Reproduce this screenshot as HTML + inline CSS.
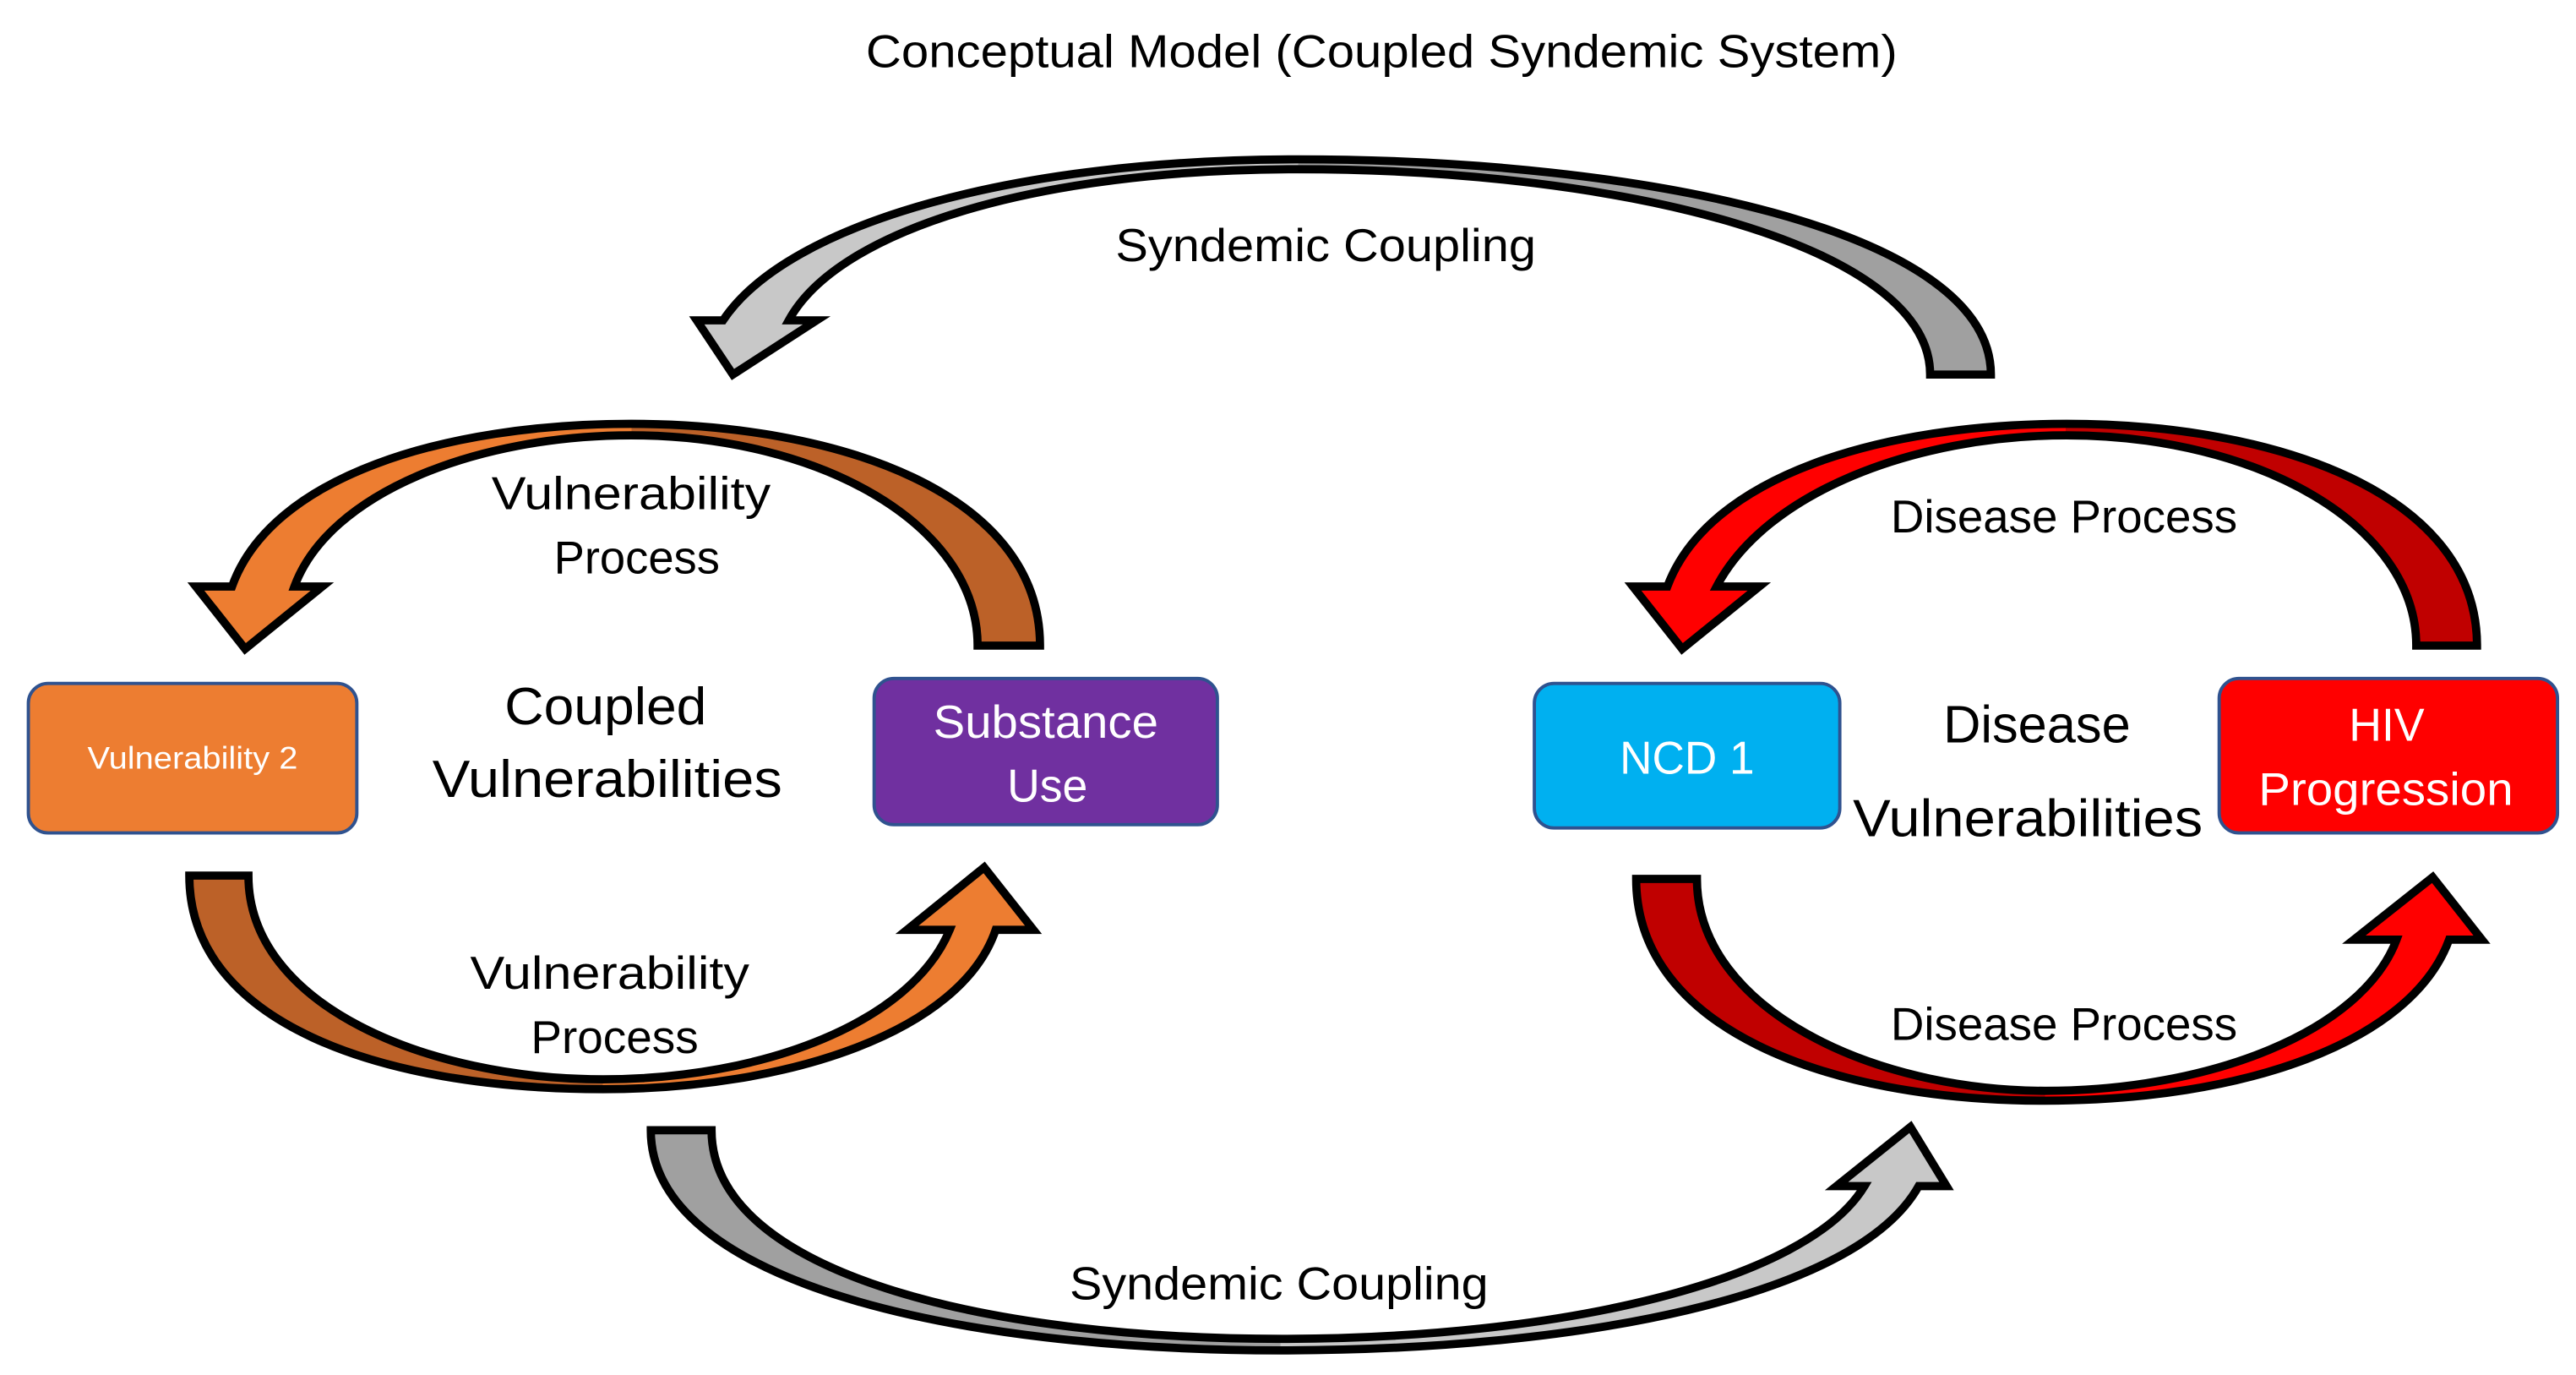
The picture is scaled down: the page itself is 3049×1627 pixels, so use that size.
<!DOCTYPE html>
<html><head><meta charset="utf-8"><style>
html,body{margin:0;padding:0;background:#fff;}
svg{display:block;}
text{font-family:"Liberation Sans Narrow","Liberation Sans",sans-serif;}
</style></head><body>
<svg width="3049" height="1627" viewBox="0 0 1568 837" xmlns="http://www.w3.org/2000/svg">
<defs>
<linearGradient id="gTL" gradientUnits="userSpaceOnUse" x1="0" y1="0" x2="1568" y2="0">
<stop offset="0.245" stop-color="#ED7D31"/><stop offset="0.245" stop-color="#BC6128"/></linearGradient>
<linearGradient id="gBL" gradientUnits="userSpaceOnUse" x1="0" y1="0" x2="1568" y2="0">
<stop offset="0.234" stop-color="#BC6128"/><stop offset="0.234" stop-color="#ED7D31"/></linearGradient>
<linearGradient id="gTR" gradientUnits="userSpaceOnUse" x1="0" y1="0" x2="1568" y2="0">
<stop offset="0.802" stop-color="#FF0000"/><stop offset="0.802" stop-color="#C00000"/></linearGradient>
<linearGradient id="gBR" gradientUnits="userSpaceOnUse" x1="0" y1="0" x2="1568" y2="0">
<stop offset="0.794" stop-color="#C00000"/><stop offset="0.794" stop-color="#FF0000"/></linearGradient>
<linearGradient id="gTG" gradientUnits="userSpaceOnUse" x1="0" y1="0" x2="1568" y2="0">
<stop offset="0.504" stop-color="#C8C8C8"/><stop offset="0.504" stop-color="#A0A0A0"/></linearGradient>
<linearGradient id="gBG" gradientUnits="userSpaceOnUse" x1="0" y1="0" x2="1568" y2="0">
<stop offset="0.497" stop-color="#A0A0A0"/><stop offset="0.497" stop-color="#C8C8C8"/></linearGradient>
</defs>
<g stroke="#000" stroke-width="5" stroke-linejoin="miter">
<!-- top-left orange -->
<path fill="url(#gTL)" d="M141 357 C165 290 270 258 384 258 C510 258 633 300 633 393 L595 393 C595 320 500 265 384 265 C290 265 200 300 179 357 L196 357 L149 395 L119 357 Z"/>
<!-- bottom-left orange -->
<path fill="url(#gBL)" d="M115 533 L151 533 C151 612 260 657 367 657 C465 657 555 622 578 566 L552 566 L599 528 L629 566 L606 566 C585 628 480 663 367 663 C230 663 115 622 115 533 Z"/>
<!-- top-right red -->
<path fill="url(#gTR)" d="M1015 357 C1040 290 1145 258 1258 258 C1385 258 1508 300 1508 393 L1471 393 C1471 320 1375 265 1258 265 C1165 265 1075 300 1045 357 L1071 357 L1024 395 L994 357 Z"/>
<!-- bottom-right red -->
<path fill="url(#gBR)" d="M996 535 L1033 535 C1033 614 1140 664 1245 664 C1345 664 1438 628 1459 572 L1433 572 L1481 534 L1511 572 L1491 572 C1468 635 1365 670 1245 670 C1110 670 996 625 996 535 Z"/>
<!-- top gray -->
<path fill="url(#gTG)" d="M440 195 C480 135 620 97 790 97 C1000 97 1212 140 1212 228 L1175 228 C1175 150 990 103 790 103 C630 103 510 140 480 195 L497 195 L446 228 L424 195 Z"/>
<!-- bottom gray -->
<path fill="url(#gBG)" d="M396 688 L433 688 C433 775 600 815 780 815 C950 815 1100 780 1135 722 L1118 722 L1163 686 L1185 722 L1168 722 C1130 790 960 822 780 822 C580 822 396 780 396 688 Z"/>
</g>
<!-- boxes -->
<rect x="17" y="416" width="200" height="91" rx="12" fill="#ED7D31" stroke="#2F528F" stroke-width="2"/>
<rect x="532" y="413" width="209" height="89" rx="12" fill="#7030A0" stroke="#2F528F" stroke-width="2"/>
<rect x="934" y="416" width="186" height="88" rx="12" fill="#00B0F0" stroke="#2F528F" stroke-width="2"/>
<rect x="1351" y="413" width="206" height="94" rx="12" fill="#FF0000" stroke="#2F528F" stroke-width="2"/>
<!-- text -->
<g fill="#000" font-size="28">
<text x="527" y="41" textLength="628" lengthAdjust="spacingAndGlyphs">Conceptual Model (Coupled Syndemic System)</text>
<text x="679" y="159" textLength="256" lengthAdjust="spacingAndGlyphs">Syndemic Coupling</text>
<text x="299" y="310" textLength="170" lengthAdjust="spacingAndGlyphs">Vulnerability</text>
<text x="337" y="349" textLength="101" lengthAdjust="spacingAndGlyphs">Process</text>
<text x="286" y="602" textLength="170" lengthAdjust="spacingAndGlyphs">Vulnerability</text>
<text x="323" y="641" textLength="102" lengthAdjust="spacingAndGlyphs">Process</text>
<text x="1151" y="324" textLength="211" lengthAdjust="spacingAndGlyphs">Disease Process</text>
<text x="1151" y="633" textLength="211" lengthAdjust="spacingAndGlyphs">Disease Process</text>
<text x="651" y="791" textLength="255" lengthAdjust="spacingAndGlyphs">Syndemic Coupling</text>
<text x="307" y="441" font-size="32" textLength="123" lengthAdjust="spacingAndGlyphs">Coupled</text>
<text x="263" y="485" font-size="32" textLength="213" lengthAdjust="spacingAndGlyphs">Vulnerabilities</text>
<text x="1183" y="452" font-size="32" textLength="114" lengthAdjust="spacingAndGlyphs">Disease</text>
<text x="1128" y="509" font-size="32" textLength="213" lengthAdjust="spacingAndGlyphs">Vulnerabilities</text>
</g>
<g fill="#fff" font-size="28">
<text x="53" y="468" font-size="19" textLength="128" lengthAdjust="spacingAndGlyphs">Vulnerability 2</text>
<text x="568" y="449" textLength="137" lengthAdjust="spacingAndGlyphs">Substance</text>
<text x="613" y="488" textLength="49" lengthAdjust="spacingAndGlyphs">Use</text>
<text x="986" y="471" textLength="82" lengthAdjust="spacingAndGlyphs">NCD 1</text>
<text x="1430" y="451" textLength="46" lengthAdjust="spacingAndGlyphs">HIV</text>
<text x="1375" y="490" textLength="155" lengthAdjust="spacingAndGlyphs">Progression</text>
</g>
</svg>
</body></html>
